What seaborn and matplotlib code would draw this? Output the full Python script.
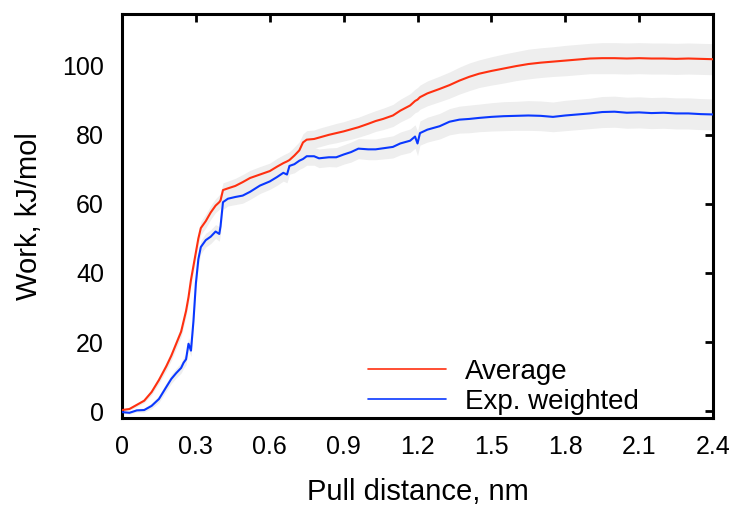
import matplotlib
matplotlib.use("Agg")
import matplotlib.pyplot as plt
import seaborn as sns
import pandas as pd

# ---- data ----
pull_nm = [0, 0.03, 0.06, 0.09, 0.12, 0.15, 0.18, 0.2, 0.22, 0.24,
           0.25, 0.26, 0.27, 0.28, 0.29, 0.30, 0.31, 0.32, 0.34, 0.36,
           0.38, 0.395, 0.40, 0.41, 0.43, 0.46, 0.49, 0.52, 0.56, 0.60,
           0.63, 0.655, 0.67, 0.68, 0.70, 0.72, 0.735, 0.75, 0.78, 0.80,
           0.84, 0.87, 0.90, 0.93, 0.96, 1.0, 1.03, 1.06, 1.10, 1.13,
           1.17, 1.19, 1.20, 1.21, 1.24, 1.29, 1.33, 1.37, 1.41, 1.45,
           1.50, 1.55, 1.60, 1.65, 1.70, 1.75, 1.80, 1.85, 1.90, 1.95,
           2.0, 2.05, 2.1, 2.15, 2.2, 2.25, 2.3, 2.35, 2.4]

work_average = [0.3, 0.6, 1.8, 3.0, 5.5, 9.0, 13, 16, 19.5, 23,
                26, 29, 33, 38, 42, 46, 50, 53, 55, 57.5,
                59.5, 60.5, 61, 64, 64.5, 65.2, 66.3, 67.5, 68.5, 69.5,
                70.8, 71.8, 72.3, 72.7, 74, 75.5, 77.8, 78.6, 78.8, 79.2,
                80, 80.5, 81, 81.6, 82.2, 83.2, 84, 84.6, 85.6, 87,
                88.5, 89.8, 90.2, 90.9, 92, 93.3, 94.4, 95.7, 96.8, 97.7,
                98.5, 99.2, 99.9, 100.5, 100.9, 101.2, 101.5, 101.8, 102.1, 102.2,
                102.2, 102.1, 102.2, 102.1, 102.1, 102.0, 102.1, 102.0, 101.9]

work_expweighted = [-0.3, -0.5, 0.2, 0.3, 1.5, 3.5, 7, 9.3, 11, 12.5,
                    14, 15, 19.5, 17.5, 26, 37, 44, 47.5, 49.5, 50.5,
                    52, 51.3, 53.5, 60.5, 61.5, 62, 62.4, 63.5, 65.3, 66.5,
                    67.8, 69, 68.5, 71, 71.5, 72.5, 73, 73.8, 73.8, 73.2,
                    73.5, 73.5, 74.3, 75, 76, 75.8, 75.8, 76.1, 76.5, 77.5,
                    78.3, 79.5, 77.5, 80.5, 81.5, 82.5, 83.8, 84.4, 84.6, 84.9,
                    85.2, 85.4, 85.5, 85.6, 85.5, 85.2, 85.6, 85.9, 86.2, 86.6,
                    86.7, 86.4, 86.5, 86.3, 86.4, 86.2, 86.2, 86.0, 85.9]

work_error = [0.3, 0.4, 0.5, 0.6, 0.8, 1.0, 1.2, 1.3, 1.4, 1.5,
              1.6, 1.6, 1.7, 1.7, 1.8, 1.8, 1.9, 1.9, 2.0, 2.0,
              2.0, 2.1, 2.1, 2.1, 2.1, 2.2, 2.2, 2.2, 2.3, 2.3,
              2.4, 2.4, 2.4, 2.4, 2.5, 2.5, 2.5, 2.6, 2.6, 2.7,
              2.7, 2.8, 2.8, 2.9, 2.9, 3.0, 3.0, 3.1, 3.2, 3.3,
              3.4, 3.4, 3.5, 3.5, 3.6, 3.7, 3.8, 3.9, 4.0, 4.0,
              4.1, 4.2, 4.2, 4.3, 4.3, 4.3, 4.4, 4.4, 4.4, 4.5,
              4.5, 4.5, 4.5, 4.5, 4.5, 4.5, 4.5, 4.5, 4.5]

series_names = ["Average", "Exp. weighted"]
xticks = [0, 0.3, 0.6, 0.9, 1.2, 1.5, 1.8, 2.1, 2.4]
xtick_labels = ["0", "0.3", "0.6", "0.9", "1.2", "1.5", "1.8", "2.1", "2.4"]
yticks = [0, 20, 40, 60, 80, 100]

# ---- build long table ----
df = pd.DataFrame({
    "x": pull_nm * 2,
    "y": work_average + work_expweighted,
    "err": work_error * 2,
    "series": [series_names[0]] * len(pull_nm) + [series_names[1]] * len(pull_nm),
})

sns.set_style("white")
plt.rcParams["font.family"] = ["Liberation Sans", "DejaVu Sans"]
plt.rcParams["text.color"] = "black"
plt.rcParams["axes.labelcolor"] = "black"

fig = plt.figure(figsize=(7.4, 5.08), dpi=100)
ax = fig.add_axes([0.1649, 0.1772, 0.7986, 0.7953])

# error bands (light grey)
for name in series_names:
    d = df[df["series"] == name]
    ax.fill_between(d["x"], d["y"] - d["err"], d["y"] + d["err"],
                    color="#eeeeee", lw=0, zorder=1)

palette = {"Average": "#ff3010", "Exp. weighted": "#0a38ff"}
sns.lineplot(data=df, x="x", y="y", hue="series", palette=palette,
             hue_order=series_names, linewidth=1.5, ax=ax, zorder=3)

ax.set_xlim(0, 2.4)
ax.set_ylim(-2, 115)
ax.set_xticks(xticks)
ax.set_xticklabels(xtick_labels)
ax.set_yticks(yticks)

ax.tick_params(axis="both", which="major", direction="in", length=6, width=2,
               labelsize=18, top=True, right=True, colors="black")
ax.tick_params(axis="x", pad=12)
ax.tick_params(axis="y", pad=13)
for s in ax.spines.values():
    s.set_linewidth(2.2)
    s.set_color("black")
    s.set_visible(True)

ax.set_xlabel("Pull distance, nm", fontsize=21, labelpad=14, color="black")
ax.set_ylabel("Work, kJ/mol", fontsize=21, labelpad=14, color="black")

leg = ax.legend(loc="lower left", bbox_to_anchor=(0.383, -0.04), frameon=False,
                fontsize=20, handlelength=2.8, handletextpad=0.7,
                labelspacing=0.15, borderpad=0.2)
for line in leg.get_lines():
    line.set_linewidth(1.2)
for t in leg.get_texts():
    t.set_color("black")

fig.savefig("out.png", dpi=100)
